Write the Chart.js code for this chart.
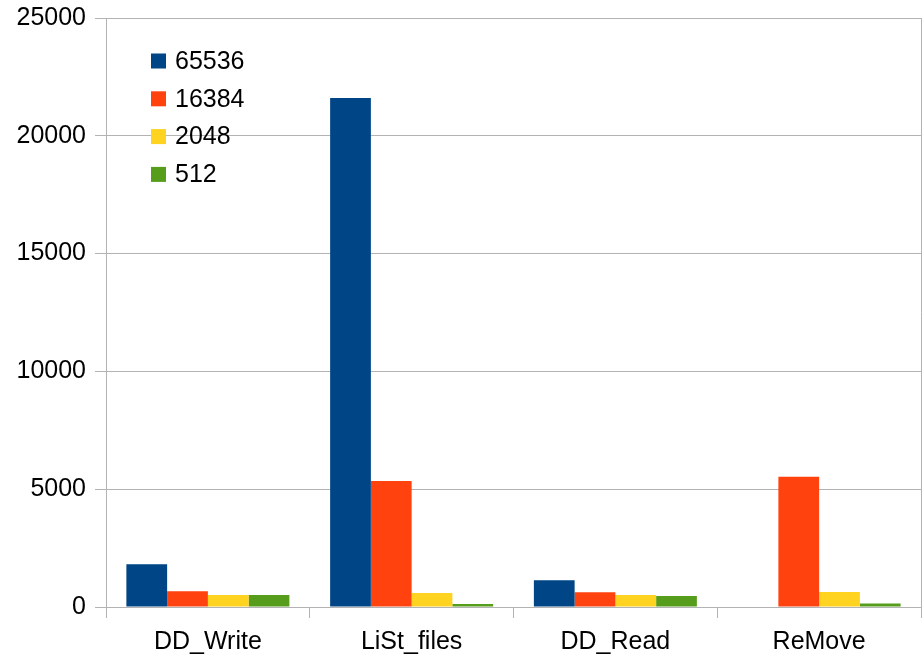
<!DOCTYPE html>
<html>
<head>
<meta charset="utf-8">
<script src="https://cdn.jsdelivr.net/npm/chart.js@4/dist/chart.umd.min.js"></script>
<style>
html,body{margin:0;padding:0;background:#fff;}
#wrap{width:922px;height:654px;position:relative;}
</style>
</head>
<body>
<div id="wrap"><canvas id="c" width="922" height="654"></canvas></div>
<script>
const categories = ["DD_Write", "LiSt_files", "DD_Read", "ReMove"];
const seriesLabels = ["65536", "16384", "2048", "512"];
const s65536 = [1815, 21600, 1140, 0];
const s16384 = [670, 5350, 630, 5530];
const s2048 = [510, 590, 505, 635];
const s512 = [505, 125, 465, 150];
const yTicks = [0, 5000, 10000, 15000, 20000, 25000];
const colors = ["#004586", "#ff420e", "#ffd320", "#579d1c"];

const seriesValues = [s65536, s16384, s2048, s512];
const FONT = '"Liberation Sans", Arial, sans-serif';

const legendPlugin = {
  id: 'inlegend',
  afterDraw(chart) {
    const ctx = chart.ctx;
    const area = chart.chartArea;
    ctx.save();
    ctx.strokeStyle = '#b3b3b3';
    ctx.lineWidth = 1;
    ctx.beginPath();
    ctx.moveTo(area.right + 0.5, area.top);
    ctx.lineTo(area.right + 0.5, area.bottom);
    ctx.stroke();
    ctx.font = '25px ' + FONT;
    ctx.textBaseline = 'middle';
    ctx.textAlign = 'left';
    chart.data.datasets.forEach((ds, i) => {
      const y = 61 + i * 37.8;
      ctx.fillStyle = ds.backgroundColor;
      ctx.fillRect(151, y - 7.5, 15, 15);
      ctx.fillStyle = '#000';
      ctx.fillText(ds.label, 175, y + 1);
    });
    ctx.restore();
  }
};

new Chart(document.getElementById('c'), {
  type: 'bar',
  data: {
    labels: categories,
    datasets: seriesLabels.map((l, i) => ({
      label: l,
      data: seriesValues[i],
      backgroundColor: colors[i],
      borderWidth: 0,
      categoryPercentage: 0.8,
      barPercentage: 1.0
    }))
  },
  options: {
    responsive: false,
    animation: false,
    devicePixelRatio: 1,
    layout: { padding: { top: 18, right: 1, left: 0, bottom: 0 } },
    plugins: { legend: { display: false }, tooltip: { enabled: false } },
    scales: {
      x: {
        grid: { drawOnChartArea: false, drawTicks: true, tickLength: 11, color: '#b3b3b3', offset: true },
        border: { color: '#b3b3b3' },
        ticks: { color: '#000', font: { size: 25, family: FONT }, padding: 9 },
        afterFit(s) { s.height = 47; s.paddingLeft = 0; s.paddingRight = 0; }
      },
      y: {
        min: 0, max: 25000,
        afterBuildTicks(s) { s.ticks = yTicks.map(v => ({ value: v })); },
        grid: { color: '#b3b3b3', tickLength: 11 },
        border: { color: '#b3b3b3' },
        ticks: { color: '#000', font: { size: 25, family: FONT }, padding: 9, callback: v => String(v) },
        afterFit(s) { s.width = 106; s.paddingTop = 0; s.paddingBottom = 0; }
      }
    }
  },
  plugins: [legendPlugin]
});
</script>
</body>
</html>
